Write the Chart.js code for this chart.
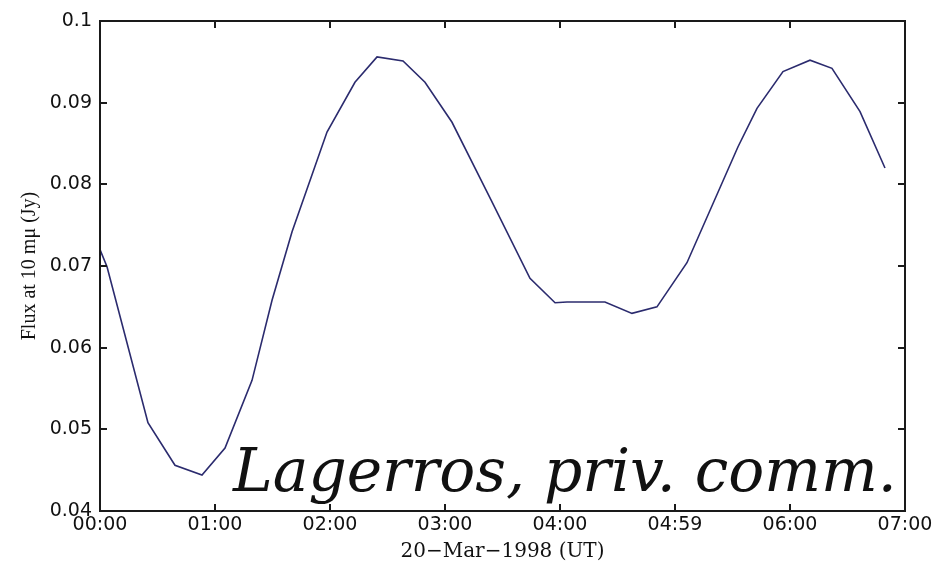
<!DOCTYPE html>
<html><head><meta charset="utf-8">
<script src="https://cdn.jsdelivr.net/npm/chart.js@4"></script>
<style>html,body{margin:0;padding:0;background:#fff;}#wrap{width:938px;height:568px;}</style>
</head><body><div id="wrap"><canvas id="c" width="938" height="568"></canvas></div>
<script>
const timesHours = [0, 0.061, 0.417, 0.652, 0.887, 1.087, 1.322, 1.496, 1.670, 1.974, 2.217, 2.409, 2.635, 2.826, 3.061, 3.400, 3.739, 3.957, 4.061, 4.391, 4.626, 4.843, 5.104, 5.548, 5.713, 5.939, 6.174, 6.365, 6.609, 6.826];
const fluxJy = [0.0720, 0.0699, 0.0508, 0.0456, 0.0444, 0.0477, 0.0560, 0.0658, 0.0742, 0.0864, 0.0925, 0.0956, 0.0951, 0.0925, 0.0876, 0.0781, 0.0685, 0.0655, 0.0656, 0.0656, 0.0642, 0.0650, 0.0704, 0.0846, 0.0893, 0.0938, 0.0952, 0.0942, 0.0889, 0.0820];
const xTickValues = [0, 1, 2, 3, 4, 5, 6, 7];
const xTickLabels = ['00:00', '01:00', '02:00', '03:00', '04:00', '04:59', '06:00', '07:00'];
const yTickValues = [0.04, 0.05, 0.06, 0.07, 0.08, 0.09, 0.1];
const yTickLabels = ['0.04', '0.05', '0.06', '0.07', '0.08', '0.09', '0.1'];
const xTitle = '20\u2212Mar\u22121998 (UT)';
const yTitle = 'Flux at 10 m\u03bc (Jy)';
const annotationText = 'Lagerros, priv. comm.';

const points = timesHours.map((t, i) => ({x: t, y: fluxJy[i]}));

const framePlugin = {
  id: 'frame',
  afterDraw(chart) {
    const {ctx, chartArea: a, scales: {x, y}} = chart;
    ctx.save();
    ctx.strokeStyle = '#1a1a1a';
    ctx.lineWidth = 2;
    ctx.strokeRect(a.left, a.top, a.right - a.left, a.bottom - a.top);
    ctx.beginPath();
    const tl = 7;
    x.ticks.forEach(t => {
      const px = Math.round(x.getPixelForValue(t.value));
      ctx.moveTo(px, a.bottom); ctx.lineTo(px, a.bottom - tl);
      ctx.moveTo(px, a.top); ctx.lineTo(px, a.top + tl);
    });
    y.ticks.forEach(t => {
      const py = Math.round(y.getPixelForValue(t.value));
      ctx.moveTo(a.left, py); ctx.lineTo(a.left + tl, py);
      ctx.moveTo(a.right, py); ctx.lineTo(a.right - tl, py);
    });
    ctx.stroke();
    // annotation text fitted to width
    ctx.fillStyle = '#111';
    ctx.textBaseline = 'alphabetic';
    ctx.textAlign = 'left';
    ctx.font = 'italic 100px "DejaVu Serif"';
    const w100 = ctx.measureText(annotationText).width;
    const targetW = 664;
    const size = 100 * targetW / w100;
    ctx.font = 'italic ' + size.toFixed(2) + 'px "DejaVu Serif"';
    ctx.fillText(annotationText, a.left + 133, a.bottom - 20);
    ctx.restore();
  }
};

new Chart(document.getElementById('c'), {
  type: 'line',
  data: {
    datasets: [{
      data: points,
      borderColor: '#2b2b6e',
      borderWidth: 1.6,
      pointRadius: 0,
      tension: 0,
      fill: false
    }]
  },
  options: {
    responsive: false,
    animation: false,
    devicePixelRatio: 1,
    layout: {padding: {top: 21, right: 33, left: 0, bottom: 0}},
    plugins: {legend: {display: false}, tooltip: {enabled: false}},
    scales: {
      x: {
        type: 'linear',
        min: 0, max: 7,
        afterBuildTicks: s => { s.ticks = xTickValues.map(v => ({value: v})); },
        afterFit: s => { s.height = 57; },
        ticks: {
          callback: (v, i) => xTickLabels[i],
          font: {family: 'DejaVu Sans', size: 19},
          color: '#111',
          padding: 3,
          maxRotation: 0,
          autoSkip: false
        },
        grid: {display: false, drawTicks: false},
        border: {display: false},
        title: {display: true, text: xTitle, color: '#111', font: {family: 'DejaVu Serif', size: 20}, padding: {top: 0, bottom: 4}}
      },
      y: {
        type: 'linear',
        min: 0.04, max: 0.1,
        afterBuildTicks: s => { s.ticks = yTickValues.map(v => ({value: v})); },
        afterFit: s => { s.width = 100; },
        ticks: {
          callback: (v, i) => yTickLabels[i],
          font: {family: 'DejaVu Sans', size: 19},
          color: '#111',
          padding: 8,
          autoSkip: false
        },
        grid: {display: false, drawTicks: false},
        border: {display: false},
        title: {display: true, text: yTitle, color: '#111', font: {family: 'Liberation Serif', size: 20}, padding: {top: 18, bottom: 0}}
      }
    }
  },
  plugins: [framePlugin]
});
</script>
</body></html>
